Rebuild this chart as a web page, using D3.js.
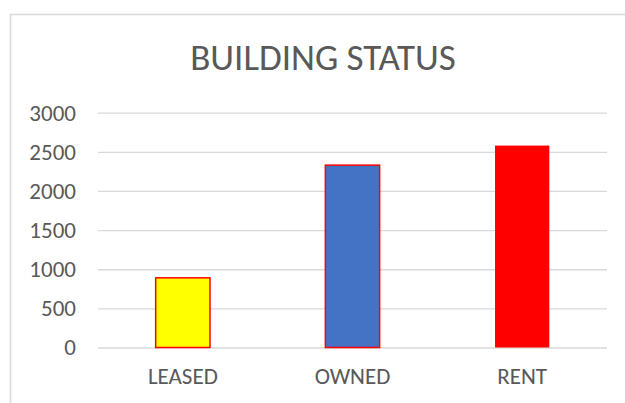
<!DOCTYPE html>
<html><head><meta charset="utf-8">
<script src="https://cdn.jsdelivr.net/npm/d3@7"></script>
<style>
html,body{margin:0;padding:0;background:#fff;}
svg{display:block;}
text{font-family:Calibri,Carlito,"Open Sans",sans-serif;fill:#595959;}
</style></head>
<body>
<script>
const categories = ["LEASED", "OWNED", "RENT"];
const values = [890, 2330, 2580];
const fills = ["#ffff00", "#4472c4", "#ff0000"];
const strokes = ["#ff0000", "#ff0000", "none"];
const yTicks = [0, 500, 1000, 1500, 2000, 2500, 3000];
const title = "BUILDING STATUS";

const W = 625, H = 403;
const svg = d3.select("body").append("svg").attr("width", W).attr("height", H);

// chart frame
svg.append("line").attr("x1", 10).attr("x2", W).attr("y1", 14.5).attr("y2", 14.5)
  .attr("stroke", "#d9d9d9").attr("stroke-width", 1.5);
svg.append("line").attr("x1", 10.5).attr("x2", 10.5).attr("y1", 14).attr("y2", H)
  .attr("stroke", "#d9d9d9").attr("stroke-width", 1.5);

svg.append("text").attr("x", 323).attr("y", 70).attr("text-anchor", "middle")
  .style("font-size", "37px").text(title);

const plot = {left: 98, right: 607, top: 112.7, bottom: 347.5};
const x = d3.scaleBand().domain(categories).range([plot.left, plot.right])
  .paddingInner(0.68).paddingOuter(0.34);
const y = d3.scaleLinear().domain([0, 3000]).range([plot.bottom, plot.top]);

// gridlines
const yAxis = d3.axisLeft(y).tickValues(yTicks).tickFormat(d3.format("d"))
  .tickSize(-(plot.right - plot.left)).tickPadding(22);
const gy = svg.append("g").attr("transform", `translate(${plot.left},0)`).call(yAxis);
gy.select(".domain").remove();
gy.selectAll(".tick line").attr("stroke", "#d9d9d9").attr("stroke-width", 1.3);
gy.selectAll(".tick text").style("font-size", "23px").attr("fill", "#595959");

// bars
svg.selectAll("rect.bar").data(values).enter().append("rect").attr("class", "bar")
  .attr("x", (d, i) => x(categories[i]))
  .attr("width", x.bandwidth())
  .attr("y", d => y(d))
  .attr("height", d => y(0) - y(d))
  .attr("fill", (d, i) => fills[i])
  .attr("stroke", (d, i) => strokes[i])
  .attr("stroke-width", 1.5);

// x axis labels
const xAxis = d3.axisBottom(x).tickSize(0).tickPadding(20);
const gx = svg.append("g").attr("transform", `translate(0,${plot.bottom})`).call(xAxis);
gx.select(".domain").remove();
gx.selectAll(".tick text").style("font-size", "23px").attr("fill", "#595959");
</script>
</body></html>
